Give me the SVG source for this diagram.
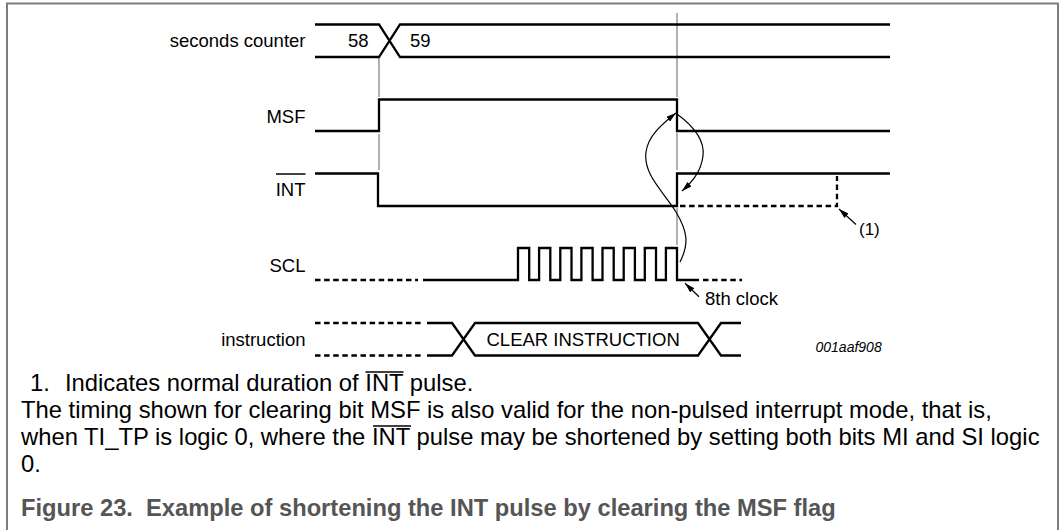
<svg xmlns="http://www.w3.org/2000/svg" width="1061" height="530" viewBox="0 0 1061 530">
<style>
.sig{fill:none;stroke:#000;stroke-width:2.3;stroke-linejoin:miter;stroke-linecap:butt}
.dash{fill:none;stroke:#000;stroke-width:2.3;stroke-dasharray:5.5 3.6}
.grid{fill:none;stroke:#888;stroke-width:1.3}
.thin{fill:none;stroke:#000;stroke-width:1.2}
.ovl{stroke:#000;stroke-width:1.5}
.lbl{font-family:"Liberation Sans",Arial,sans-serif;font-size:18.5px;fill:#000}
.body{font-family:"Liberation Sans",Arial,sans-serif;font-size:23.8px;fill:#000}
.cap{font-family:"Liberation Sans",Arial,sans-serif;font-size:23.7px;font-weight:bold;fill:#555}
</style>
<defs>
<marker id="ah" viewBox="0 0 10 6" refX="10" refY="3" markerWidth="10" markerHeight="6" orient="auto" markerUnits="userSpaceOnUse"><path d="M0,0 L10,3 L0,6 z" fill="#000"/></marker>
</defs>
<rect width="1061" height="530" fill="#fff"/>
<path d="M7,531 V3.5 H1058 V531" fill="none" stroke="#7d7d7d" stroke-width="2"/>

<g id="connectors">
<path class="grid" d="M379,57 V97 M379,134 V170"/>
<path class="grid" d="M677,13 V97 M677,133 V170 M677,208 V245"/>
<path class="thin" marker-end="url(#ah)" d="M680,262 C689,244 688,232 676,212 C664,192 643,175 646,152 C648,136 662,124 676,113"/>
<path class="thin" marker-end="url(#ah)" d="M677,114 C692,125 705,140 703,156 C701,172 692,182 682,191"/>
<path class="thin" marker-end="url(#ah)" d="M856,224.5 L839,209"/>
<path class="thin" marker-end="url(#ah)" d="M699,296.7 L685,283.3"/>
</g>

<g id="seconds-counter">
<text class="lbl" x="305.5" y="47" text-anchor="end">seconds counter</text>
<path class="sig" d="M315,24.5 H379 L400,57 H890 M315,57 H379 L400,24.5 H890"/>
<text class="lbl" x="348" y="47">58</text>
<text class="lbl" x="410" y="47">59</text>
</g>

<g id="msf">
<text class="lbl" x="305.5" y="123.3" text-anchor="end">MSF</text>
<path class="sig" d="M315,131 H379 V99.5 H677 V131 H890"/>
</g>

<g id="int">
<text class="lbl" x="305.5" y="196" text-anchor="end">INT</text>
<line class="ovl" x1="276" y1="174" x2="305.5" y2="174"/>
<path class="sig" d="M315,173.5 H378 V206 H677 V173.5 H890"/>
<path class="dash" d="M680,206 H837 V176"/>
<text class="lbl" x="859" y="234.6" style="font-size:17px">(1)</text>
</g>

<g id="scl">
<text class="lbl" x="305.5" y="272" text-anchor="end">SCL</text>
<path class="dash" d="M315,280 H418"/>
<path class="sig" d="M423,280 H518 V248 H529.2 V280 H539.1 V248 H550.3 V280 H560.3 V248 H571.5 V280 H581.4 V248 H592.6 V280 H602.5 V248 H613.7 V280 H623.7 V248 H634.9 V280 H644.8 V248 H656 V280 H665.9 V248 H677 V280 H699"/>
<path class="dash" d="M703,280 H742"/>
<text class="lbl" x="705" y="305">8th clock</text>
</g>

<g id="instruction">
<text class="lbl" x="305.5" y="346" text-anchor="end">instruction</text>
<path class="dash" d="M315,323 H422 M315,355.5 H422"/>
<path class="sig" d="M427,323 H452 L475,355.5 H698 L721,323 H741 M427,355.5 H452 L475,323 H698 L721,355.5 H741"/>
<text class="lbl" x="486.5" y="345.6">CLEAR INSTRUCTION</text>
<text x="815.5" y="352" style="font-family:'Liberation Sans',Arial,sans-serif;font-size:14px;font-style:italic">001aaf908</text>
</g>

<g id="notes">
<text class="body" x="30" y="391">1.</text>
<text class="body" x="65" y="391">Indicates normal duration of INT pulse.</text>
<line class="ovl" x1="365.5" y1="372" x2="403.5" y2="372"/>
<text class="body" x="21" y="418">The timing shown for clearing bit MSF is also valid for the non-pulsed interrupt mode, that is,</text>
<text class="body" x="21" y="445">when TI_TP is logic 0, where the INT pulse may be shortened by setting both bits MI and SI logic</text>
<line class="ovl" x1="373" y1="426" x2="411" y2="426"/>
<text class="body" x="21" y="472">0.</text>
<text class="cap" x="21" y="516">Figure 23.&#160; Example of shortening the INT pulse by clearing the MSF flag</text>
</g>
</svg>
